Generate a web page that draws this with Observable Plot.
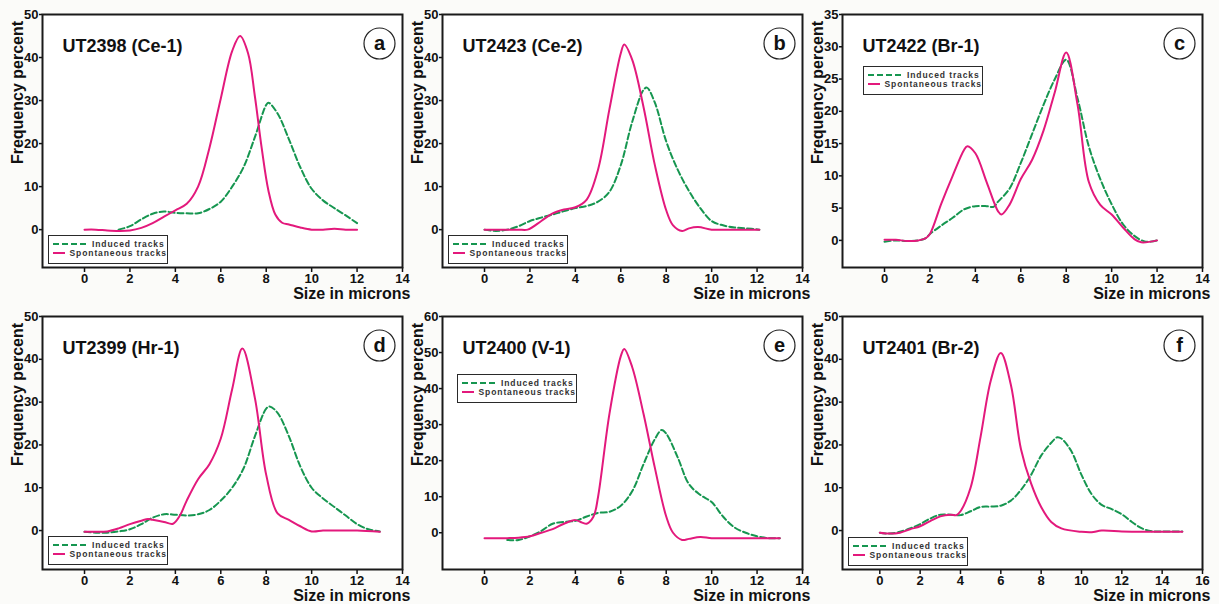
<!DOCTYPE html>
<html>
<head>
<meta charset="utf-8">
<script src="https://cdn.jsdelivr.net/npm/d3@7"></script>
<script src="https://cdn.jsdelivr.net/npm/@observablehq/plot@0.6"></script>
<style>
  body { margin: 0; background: #fbfbf9; font-family: "Liberation Sans", Arial, sans-serif; }
  #wrap { position: relative; width: 1219px; height: 604px; overflow: hidden; }
  .panel { position: absolute; }
  .legend { position: absolute; box-sizing: border-box; width: 120px; height: 29px; border: 1.2px solid #2a2a2a; background: #fff;
            font-size: 8.5px; letter-spacing: 0.9px; font-weight: bold; color: #333; padding: 3px 0 0 4px; white-space: nowrap; }
  .legend .row { display: flex; align-items: center; height: 9.5px; }
  .legend svg { margin-right: 5px; }
</style>
</head>
<body>
<div id="wrap"></div>
<script>
const GREEN = "#169650";
const MAGENTA = "#e3197c";

// ---- Panel titles, letters and tick labels ----
const titles = ["UT2398 (Ce-1)", "UT2423 (Ce-2)", "UT2422 (Br-1)", "UT2399 (Hr-1)", "UT2400 (V-1)", "UT2401 (Br-2)"];
const letters = ["a", "b", "c", "d", "e", "f"];
const xTicks14 = [0, 2, 4, 6, 8, 10, 12, 14];
const xTicks16 = [0, 2, 4, 6, 8, 10, 12, 14, 16];
const yTicks50 = [0, 10, 20, 30, 40, 50];
const yTicks35 = [0, 5, 10, 15, 20, 25, 30, 35];
const yTicks60 = [0, 10, 20, 30, 40, 50, 60];
const legendLabels = ["Induced tracks", "Spontaneous tracks"];

// ---- Series values (size in microns, frequency percent) ----
// a
const aSponX = [0, 0.5, 1, 1.5, 2, 2.5, 3, 3.5, 4, 4.5, 5, 5.5, 6, 6.5, 6.85, 7.2, 7.5, 7.8, 8.1, 8.4, 8.7, 9, 9.5, 10, 10.5, 11, 11.5, 12];
const aSponY = [0, 0, -0.2, -0.3, -0.2, 0.4, 1.5, 3, 4.5, 6, 10, 19, 30.5, 41.5, 45, 41, 31, 19, 9, 3.5, 1.6, 1.2, 0.5, 0, 0, 0.2, 0, 0];
const aIndX = [1.5, 2, 2.5, 3, 3.5, 4, 4.5, 5, 5.5, 6, 6.5, 7, 7.5, 8, 8.1, 8.5, 9, 9.5, 10, 10.5, 11, 11.5, 12];
const aIndY = [0, 0.8, 2.4, 3.7, 4.2, 3.9, 3.8, 3.8, 4.8, 6.5, 10, 14.5, 21.5, 29, 29.5, 27, 21, 14.5, 9.5, 6.8, 5, 3.3, 1.5];
// b
const bSponX = [0, 0.5, 1, 1.5, 1.9, 2.5, 3, 3.5, 4, 4.5, 5, 5.5, 6, 6.15, 6.5, 7, 7.5, 8, 8.3, 8.7, 9, 9.4, 10, 10.5, 11, 12.1];
const bSponY = [0, 0, 0, 0, 0, 2, 3.8, 4.7, 5.2, 7, 14, 28, 41, 43, 39.5, 28.5, 15, 4.5, 1, -0.3, 0.3, 0.6, 0, 0, 0, 0];
const bIndX = [0, 0.5, 1, 1.5, 2, 2.5, 3, 3.5, 4, 4.5, 5, 5.5, 6, 6.5, 7, 7.15, 7.5, 8, 8.5, 9, 9.5, 10, 10.5, 11, 11.5, 12.1];
const bIndY = [0, -0.3, 0, 0.8, 2, 2.8, 3.5, 4.3, 5, 5.5, 6.5, 8.8, 15, 25, 32.5, 33, 29.5, 20.5, 14, 9, 5, 2, 1, 0.5, 0.3, 0];
// c
const cSponX = [0, 0.5, 1, 1.5, 1.8, 2, 2.5, 3, 3.5, 3.65, 4, 4.5, 5, 5.15, 5.5, 6, 6.5, 7, 7.5, 8, 8.5, 9, 9.5, 10, 10.5, 11, 11.3, 12];
const cSponY = [0.1, 0.1, -0.1, 0, 0.3, 1, 5.7, 10, 14, 14.6, 13.5, 9, 4.5, 4, 5.5, 9.5, 12.5, 17, 23, 29.1, 21, 9, 5.5, 4, 2, 0.2, -0.3, 0];
const cIndX = [0, 0.5, 1, 1.5, 1.8, 2, 2.5, 3, 3.5, 4, 4.5, 4.8, 5, 5.5, 6, 6.5, 7, 7.5, 8, 8.5, 9, 9.5, 10, 10.5, 11, 11.5, 12];
const cIndY = [-0.2, 0, -0.1, 0, 0.3, 1, 2.3, 3.5, 4.8, 5.3, 5.3, 5.2, 6, 8, 12, 16.5, 21, 25, 28, 22, 14.5, 9.5, 5.6, 2.5, 0.7, -0.2, 0];
// d
const dSponX = [0, 0.5, 1, 1.5, 2, 2.5, 2.8, 3, 3.5, 3.9, 4.2, 4.5, 5, 5.5, 6, 6.5, 6.95, 7.5, 8, 8.5, 9, 9.5, 10, 10.5, 11, 12, 13];
const dSponY = [-0.3, -0.3, -0.2, 0.5, 1.5, 2.3, 2.7, 2.5, 2, 1.6, 3.5, 7, 12, 15.5, 21.5, 33, 42.5, 31, 13, 4, 2.5, 1, -0.2, 0, 0, 0, -0.3];
const dIndX = [0, 0.5, 1, 1.5, 2, 2.5, 3, 3.5, 4, 4.5, 5, 5.5, 6, 6.5, 7, 7.5, 8, 8.15, 8.5, 9, 9.5, 10, 10.5, 11, 11.5, 12, 12.5, 13];
const dIndY = [-0.3, -0.5, -0.5, -0.2, 0.3, 1.5, 3, 3.8, 3.7, 3.5, 3.8, 4.8, 7, 10, 14.5, 22, 28.5, 29, 27.5, 22, 15, 10, 7.5, 5.5, 3.5, 1.5, 0.3, -0.2];
// e
const eSponX = [0, 1, 1.5, 2, 2.5, 3, 3.5, 4, 4.3, 4.5, 4.8, 5, 5.5, 6, 6.15, 6.5, 7, 7.5, 8, 8.3, 8.7, 9, 9.5, 10, 11, 12, 13];
const eSponY = [-1.5, -1.5, -1.4, -1, 0, 1, 2.5, 3.5, 2.8, 2.5, 4.5, 10, 33, 49, 51, 46, 33, 18, 4.5, 0, -2, -1.7, -1.2, -1.5, -1.5, -1.5, -1.5];
const eIndX = [1, 1.5, 2, 2.5, 3, 3.5, 4, 4.5, 5, 5.5, 6, 6.5, 7, 7.5, 7.8, 8, 8.5, 9, 9.5, 10, 10.5, 11, 11.5, 12, 12.5, 13];
const eIndY = [-2, -2, -1, 0.5, 2.5, 3, 3.3, 4.5, 5.5, 5.8, 7.5, 11.5, 19, 26, 28.5, 27.5, 21, 13.5, 10.5, 8.5, 4.5, 1.5, 0, -1, -1.5, -1.5];
// f
const fSponX = [0, 0.5, 1, 1.5, 2, 2.5, 3, 3.5, 3.8, 4, 4.5, 5, 5.5, 6, 6.5, 7, 7.5, 8, 8.5, 9, 10, 10.5, 11, 12, 13, 14, 15];
const fSponY = [-0.5, -0.7, -0.5, 0.3, 1, 2.2, 3.3, 3.7, 3.6, 4.5, 10, 22, 35, 41.5, 34, 19, 11, 5.5, 2, 0.5, -0.3, -0.4, 0, -0.2, -0.3, -0.3, -0.3];
const fIndX = [0, 0.5, 1, 1.5, 2, 2.5, 3, 3.5, 4, 4.5, 5, 5.5, 6, 6.5, 7, 7.5, 8, 8.5, 8.8, 9, 9.5, 10, 10.5, 11, 11.5, 12, 12.5, 13, 13.5, 14, 15];
const fIndY = [-0.5, -0.7, -0.3, 0.5, 1.5, 2.8, 3.7, 3.7, 3.6, 4.5, 5.5, 5.6, 5.8, 7, 9.5, 13, 17.5, 20.5, 21.8, 21.5, 18.5, 13, 8.5, 6, 5, 3.8, 2, 0.5, -0.2, -0.2, -0.2];

// ---- Panel layout (positions/styles) ----
const panels = [
  {col: 0, row: 0, sx: aSponX, sy: aSponY, ix: aIndX, iy: aIndY, xd: [-1.85, 14], xt: xTicks14, yd: [-8.8, 50], yt: yTicks50, leg: [48, 235]},
  {col: 1, row: 0, sx: bSponX, sy: bSponY, ix: bIndX, iy: bIndY, xd: [-1.85, 14], xt: xTicks14, yd: [-8.8, 50], yt: yTicks50, leg: [448, 235]},
  {col: 2, row: 0, sx: cSponX, sy: cSponY, ix: cIndX, iy: cIndY, xd: [-1.85, 14], xt: xTicks14, yd: [-4.2, 35], yt: yTicks35, leg: [863, 66]},
  {col: 0, row: 1, sx: dSponX, sy: dSponY, ix: dIndX, iy: dIndY, xd: [-1.85, 14], xt: xTicks14, yd: [-9.1, 50], yt: yTicks50, leg: [48, 536]},
  {col: 1, row: 1, sx: eSponX, sy: eSponY, ix: eIndX, iy: eIndY, xd: [-1.85, 14], xt: xTicks14, yd: [-10.2, 60], yt: yTicks60, leg: [457, 374]},
  {col: 2, row: 1, sx: fSponX, sy: fSponY, ix: fIndX, iy: fIndY, xd: [-1.85, 16], xt: xTicks16, yd: [-9.1, 50], yt: yTicks50, leg: [848, 537]}
];

const wrap = document.getElementById("wrap");
const FONT = "'Liberation Sans', Arial, sans-serif";

panels.forEach((p, i) => {
  const spon = p.sx.map((x, k) => ({x, y: p.sy[k]}));
  const ind = p.ix.map((x, k) => ({x, y: p.iy[k]}));
  const chart = Plot.plot({
    width: 410, height: 300,
    marginLeft: 42, marginRight: 8, marginTop: 14, marginBottom: 33,
    style: {background: "transparent", fontFamily: FONT, overflow: "visible", color: "#111"},
    x: {domain: p.xd},
    y: {domain: p.yd},
    marks: [
      Plot.frame({fill: "white"}),
      Plot.axisX({ticks: p.xt, tickSize: 5, tickPadding: 1, fontSize: 13, fontWeight: "bold", label: null, strokeWidth: 1.5}),
      Plot.axisY({ticks: p.yt, tickSize: 3, tickPadding: 1, fontSize: 13, fontWeight: "bold", label: null, strokeWidth: 1.5}),
      Plot.line(ind, {x: "x", y: "y", stroke: GREEN, strokeWidth: 2, strokeDasharray: "6,3", curve: "catmull-rom"}),
      Plot.line(spon, {x: "x", y: "y", stroke: MAGENTA, strokeWidth: 2, curve: "catmull-rom"}),
      Plot.frame({stroke: "#1a1a1a", strokeWidth: 2}),
      Plot.text([titles[i]], {frameAnchor: "top-left", text: d => d, dx: 20, dy: 25, fontSize: 18, fontWeight: "bold", fill: "#111"}),
      Plot.dot([letters[i]], {frameAnchor: "top-right", dx: -23, dy: 29, r: 15.5, stroke: "#222", strokeWidth: 1.2, fill: "white"}),
      Plot.text([letters[i]], {frameAnchor: "top-right", text: d => d, dx: -23, dy: 29, textAnchor: "middle", lineAnchor: "middle", fontSize: 20, fontWeight: "bold", fill: "#111"}),
      Plot.text(["Frequency percent"], {frameAnchor: "top-left", text: d => d, rotate: -90, dx: -25, dy: 78, textAnchor: "middle", lineAnchor: "middle", fontSize: 16, fontWeight: "bold", fill: "#111"}),
      Plot.text(["Size in microns"], {frameAnchor: "bottom-right", text: d => d, dx: 8, dy: 31, textAnchor: "end", lineAnchor: "bottom", fontSize: 16, fontWeight: "bold", fill: "#111"})
    ]
  });
  const holder = document.createElement("div");
  holder.className = "panel";
  holder.style.left = (p.col * 400) + "px";
  holder.style.top = (p.row * 302) + "px";
  holder.appendChild(chart);
  wrap.appendChild(holder);

  const lg = document.createElement("div");
  lg.className = "legend";
  lg.style.left = p.leg[0] + "px";
  lg.style.top = p.leg[1] + "px";
  lg.innerHTML =
    `<div class="row"><svg width="34" height="6"><line x1="0" x2="34" y1="3" y2="3" stroke="${GREEN}" stroke-width="2" stroke-dasharray="6,3"/></svg><span>${legendLabels[0]}</span></div>` +
    `<div class="row"><svg width="34" height="6"><line x1="0" x2="34" y1="3" y2="3" stroke="${MAGENTA}" stroke-width="2"/></svg><span>${legendLabels[1]}</span></div>`;
  wrap.appendChild(lg);
});
</script>
</body>
</html>
